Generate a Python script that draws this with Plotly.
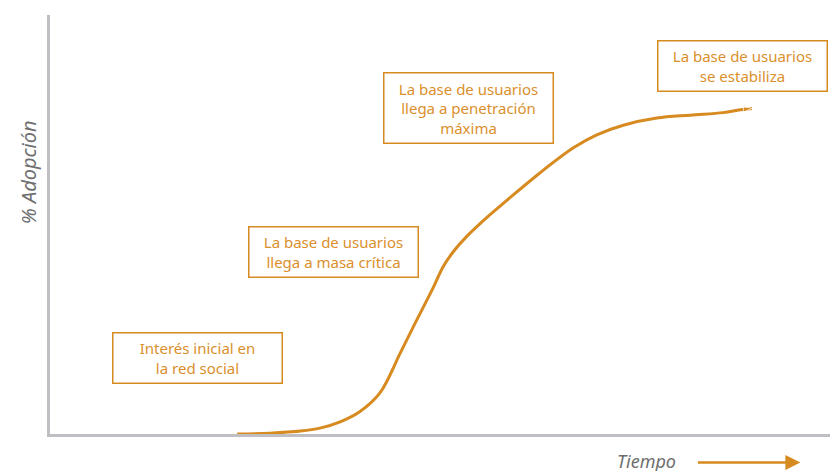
import plotly.graph_objects as go

# tiempo (0-100) vs % adopción (0-100)
tiempo = [24.0, 28.2, 32.1, 34.6, 37.2, 39.7, 42.3, 44.9, 46.8, 49.1, 50.4, 51.7,
          53.4, 56.2, 58.6, 62.8, 67.1, 70.1, 73.5, 77.8, 82.1, 86.3, 88.5, 90.0]
adopcion = [0.0, 0.2, 0.7, 1.4, 2.9, 5.3, 9.8, 19.3, 26.4, 34.8, 39.9, 43.5,
            47.1, 52.0, 55.8, 62.3, 68.3, 71.4, 73.7, 75.4, 76.1, 76.7, 77.4, 77.7]

etapas = [
    "Interés inicial en<br>la red social",
    "La base de usuarios<br>llega a masa crítica",
    "La base de usuarios<br>llega a penetración<br>máxima",
    "La base de usuarios<br>se estabiliza",
]
etapa_x = [18.9, 36.4, 53.6, 88.8]
etapa_y = [18.1, 43.4, 77.9, 87.9]

naranja = "#D68A1F"
gris = "#BEBEC3"

fig = go.Figure()
fig.add_trace(go.Scatter(
    x=tiempo, y=adopcion, mode="lines+markers",
    line=dict(color=naranja, width=3, shape="spline", smoothing=1.0),
    marker=dict(symbol="arrow", angleref="previous", color=naranja,
                size=[0] * (len(tiempo) - 1) + [9]),
    hoverinfo="skip", showlegend=False,
))

for txt, x, y in zip(etapas, etapa_x, etapa_y):
    n = txt.count("<br>") + 1
    fig.add_annotation(
        x=x, y=y, text=txt, showarrow=False,
        font=dict(family="Noto Sans", size=15, color="#DB8F2C"),
        width=162, height=20 * n + 3, borderpad=3,
        bordercolor=naranja, borderwidth=1.5, bgcolor="white",
    )

fig.add_annotation(
    x=-0.028, y=0.625, xref="paper", yref="paper", text="<i>% Adopción</i>",
    textangle=-90, showarrow=False, xanchor="center", yanchor="middle",
    font=dict(family="Noto Sans", size=20, color="#6E6E6E"),
)
fig.add_annotation(
    x=0.765, y=-0.064, xref="paper", yref="paper", text="<i>Tiempo</i>",
    showarrow=False, xanchor="center", yanchor="middle", height=20,
    borderpad=0, font=dict(family="Noto Sans", size=18, color="#6E6E6E"),
)
fig.add_annotation(
    x=0.962, y=-0.068, xref="paper", yref="paper", text="",
    showarrow=True, ax=-104, ay=0, arrowhead=2, arrowsize=1.2, arrowwidth=2.5,
    arrowcolor=naranja,
)

fig.update_xaxes(range=[0, 100], showline=True, linecolor=gris, linewidth=3,
                 showgrid=False, zeroline=False, showticklabels=False, ticks="")
fig.update_yaxes(range=[0, 100], showline=True, linecolor=gris, linewidth=3,
                 showgrid=False, zeroline=False, showticklabels=False, ticks="")
fig.update_layout(
    width=831, height=472, margin=dict(l=50, r=1, t=15, b=38),
    plot_bgcolor="white", paper_bgcolor="white",
)
fig.write_html("out.html", config={"displayModeBar": False},
               post_script="document.body.style.margin='0';")
